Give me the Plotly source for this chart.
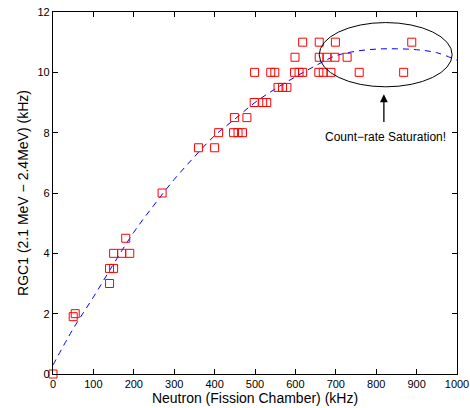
import plotly.graph_objects as go

# Measured data points (Neutron kHz vs RGC1 kHz)
neutron_khz = [0, 50, 55, 140, 140, 150, 150, 170, 190, 180, 270, 360, 400,
               410, 447, 458, 469, 449, 480, 498, 519, 529, 557, 568, 579,
               499, 539, 549, 598, 609, 618, 658, 669, 688, 758, 868,
               599, 659, 678, 698, 728, 618, 659, 699, 888]
rgc1_khz = [0, 1.9, 2.0, 3.0, 3.5, 3.5, 4.0, 4.0, 4.0, 4.5, 6.0, 7.5, 7.5,
            8.0, 8.0, 8.0, 8.0, 8.5, 8.5, 9.0, 9.0, 9.0, 9.5, 9.5, 9.5,
            10, 10, 10, 10, 10, 10, 10, 10, 10, 10, 10,
            10.5, 10.5, 10.5, 10.5, 10.5, 11, 11, 11, 11]

# Fit curve
fit_x = [0, 50, 100, 150, 200, 250, 300, 350, 400, 450, 500, 550, 600, 650,
         700, 750, 800, 850, 900, 950, 1000]
fit_y = [0.3, 1.5, 2.55, 3.65, 4.7, 5.6, 6.45, 7.2, 7.9, 8.45, 9.0, 9.45,
         9.85, 10.22, 10.55, 10.7, 10.77, 10.78, 10.75, 10.65, 10.4]

x_ticks = [0, 100, 200, 300, 400, 500, 600, 700, 800, 900, 1000]
y_ticks = [0, 2, 4, 6, 8, 10, 12]

FONT = "Liberation Sans, Arial, Helvetica, sans-serif"

fig = go.Figure()
fig.add_trace(go.Scatter(x=fit_x, y=fit_y, mode="lines", line_shape="spline",
                         line=dict(color="#0000ff", width=1, dash="6px,5px"),
                         showlegend=False, hoverinfo="skip"))
fig.add_trace(go.Scatter(x=neutron_khz, y=rgc1_khz, mode="markers",
                         marker=dict(symbol="square-open", size=8, color="#ff0000",
                                     line=dict(width=1, color="#ff0000")),
                         cliponaxis=False, showlegend=False))

fig.add_shape(type="circle", xref="x", yref="y", x0=659, x1=988, y0=9.52, y1=11.65,
              line=dict(color="black", width=1))
fig.add_annotation(x=819, y=9.27, ax=819, ay=8.3, xref="x", yref="y",
                   axref="x", ayref="y", text="", showarrow=True,
                   arrowhead=2, arrowsize=1.2, arrowwidth=1.3, arrowcolor="black")
fig.add_annotation(x=823, y=7.87, xref="x", yref="y", text="Count\u2212rate Saturation!",
                   showarrow=False, font=dict(family=FONT, size=12, color="black"))

axis_common = dict(showline=True, linecolor="black", linewidth=1.3, mirror="ticks",
                   ticks="inside", ticklen=5, tickcolor="black", tickwidth=1,
                   showgrid=False, zeroline=False,
                   tickfont=dict(family=FONT, size=11, color="black"))

fig.update_xaxes(range=[0, 1000], tickvals=x_ticks,
                 title=dict(text="Neutron (Fission Chamber) (kHz)", standoff=2,
                            font=dict(family=FONT, size=14, color="black")),
                 **axis_common)
fig.update_yaxes(range=[0, 12], tickvals=y_ticks,
                 title=dict(text="RGC1 (2.1 MeV \u2212 2.4MeV) (kHz)", standoff=5,
                            font=dict(family=FONT, size=14, color="black")),
                 **axis_common)

fig.update_layout(width=470, height=408, plot_bgcolor="white", paper_bgcolor="white",
                  margin=dict(l=53, r=13, t=12, b=34, autoexpand=False),
                  hovermode=False,
                  font=dict(family=FONT, color="black"))

fig.write_html("out.html", config={"displayModeBar": False},
               post_script="document.body.style.margin='0';document.body.style.overflow='hidden';")
